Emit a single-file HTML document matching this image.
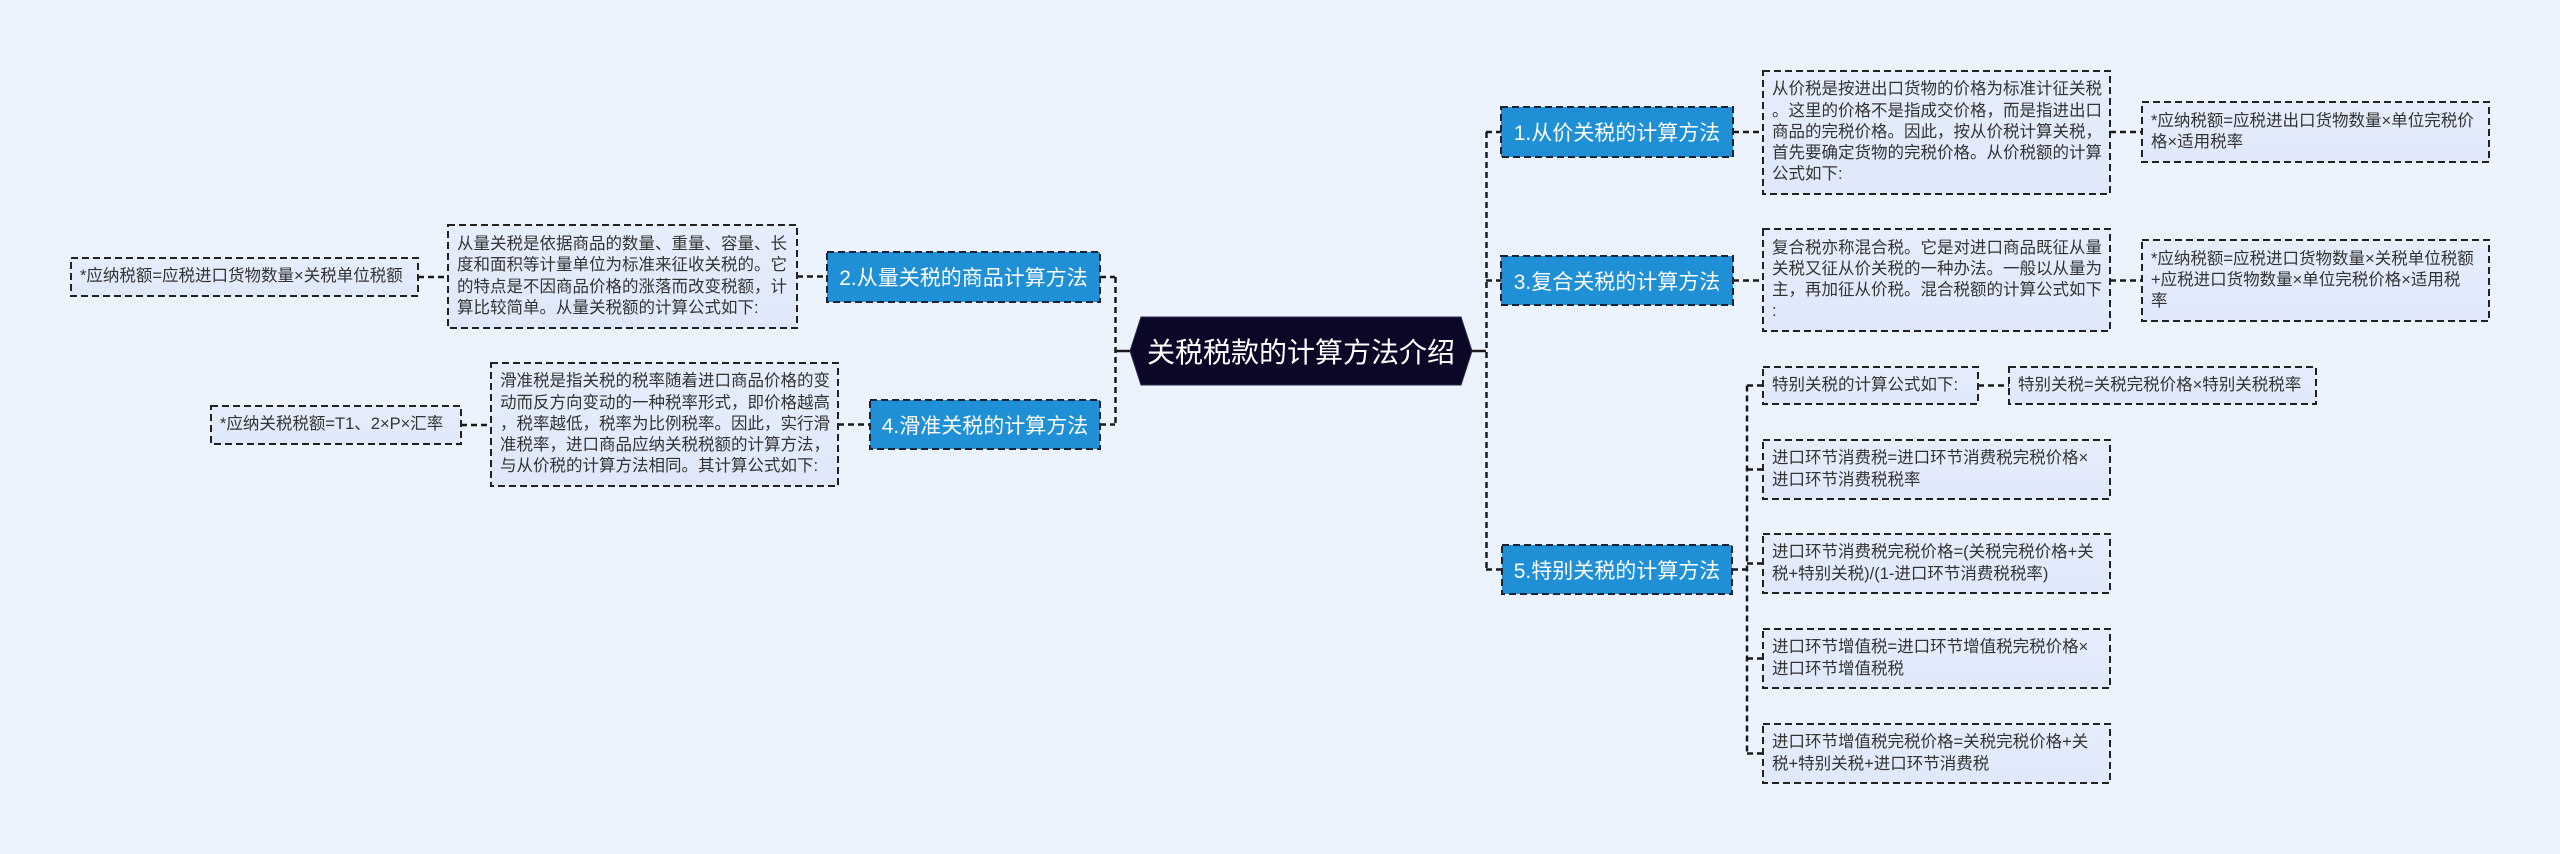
<!DOCTYPE html>
<html>
<head>
<meta charset="utf-8">
<style>
html,body{margin:0;padding:0;}
body{width:2560px;height:854px;background:#EDF3FD;position:relative;overflow:hidden;font-family:"Liberation Sans","Noto Sans CJK SC",sans-serif;}
svg{position:absolute;left:0;top:0;}
.t{position:absolute;box-sizing:border-box;display:flex;align-items:center;padding-left:9px;color:#333;font-size:16.5px;line-height:21.25px;white-space:nowrap;}
.n{position:absolute;box-sizing:border-box;display:flex;align-items:center;justify-content:center;color:#fff;font-size:21px;white-space:nowrap;}
.c{position:absolute;display:flex;align-items:center;justify-content:center;color:#fff;font-size:28px;white-space:nowrap;}
</style>
</head>
<body>
<svg width="2560" height="854" viewBox="0 0 2560 854">
  <defs>
    <linearGradient id="bx" x1="0" y1="0" x2="0" y2="1">
      <stop offset="0" stop-color="#E6EEFC"/>
      <stop offset="1" stop-color="#DFE8FA"/>
    </linearGradient>
  </defs>
  <!-- connectors -->
  <g stroke="#1a1a1a" stroke-width="2.5" fill="none">
    <line x1="1472" y1="351" x2="1486" y2="351"/>
    <line x1="1115" y1="351" x2="1130" y2="351"/>
  </g>
  <g stroke="#1a1a1a" stroke-width="2.5" fill="none" stroke-dasharray="6 4">
    <line x1="1486.5" y1="132" x2="1486.5" y2="570"/>
    <line x1="1486" y1="132" x2="1501" y2="132"/>
    <line x1="1486" y1="280.5" x2="1501" y2="280.5"/>
    <line x1="1486" y1="569.5" x2="1502" y2="569.5"/>

    <line x1="1115.5" y1="277" x2="1115.5" y2="425"/>
    <line x1="1100" y1="277" x2="1115" y2="277"/>
    <line x1="1100" y1="424.5" x2="1115" y2="424.5"/>

    <line x1="1733" y1="132" x2="1763" y2="132"/>
    <line x1="2110" y1="132" x2="2142" y2="132"/>
    <line x1="1733" y1="280.5" x2="1763" y2="280.5"/>
    <line x1="2110" y1="280.5" x2="2142" y2="280.5"/>

    <line x1="1732" y1="569.5" x2="1747" y2="569.5"/>
    <line x1="1747" y1="385.5" x2="1747" y2="753.5"/>
    <line x1="1747" y1="385.5" x2="1763" y2="385.5"/>
    <line x1="1747" y1="469.5" x2="1763" y2="469.5"/>
    <line x1="1747" y1="563.5" x2="1763" y2="563.5"/>
    <line x1="1747" y1="658.5" x2="1763" y2="658.5"/>
    <line x1="1747" y1="753.5" x2="1763" y2="753.5"/>
    <line x1="1978" y1="385.5" x2="2009" y2="385.5"/>

    <line x1="797" y1="276.5" x2="827" y2="276.5"/>
    <line x1="418" y1="277" x2="448" y2="277"/>
    <line x1="838" y1="424.5" x2="870" y2="424.5"/>
    <line x1="461" y1="425" x2="491" y2="425"/>
  </g>

  <!-- center -->
  <polygon points="1130,351 1141,317 1461,317 1472,351 1461,385 1141,385" fill="#0B0727" stroke="#2a2a48" stroke-width="1"/>

  <!-- main nodes -->
  <g fill="#1F8FD6" stroke="#1a2233" stroke-width="2" stroke-dasharray="7 4">
    <rect x="1501" y="107" width="232" height="50"/>
    <rect x="1501" y="256" width="232" height="49"/>
    <rect x="1502" y="545" width="230" height="49"/>
    <rect x="827" y="252" width="273" height="50"/>
    <rect x="870" y="400" width="230" height="49"/>
  </g>

  <!-- text boxes -->
  <g fill="url(#bx)" stroke="#222" stroke-width="2" stroke-dasharray="7 4">
    <rect x="1763" y="71" width="347" height="123"/>
    <rect x="2142" y="102" width="347" height="60"/>
    <rect x="1763" y="229" width="347" height="102"/>
    <rect x="2142" y="240" width="347" height="81"/>
    <rect x="1763" y="367" width="215" height="37"/>
    <rect x="2009" y="367" width="307" height="37"/>
    <rect x="1763" y="440" width="347" height="59"/>
    <rect x="1763" y="534" width="347" height="59"/>
    <rect x="1763" y="629" width="347" height="59"/>
    <rect x="1763" y="724" width="347" height="59"/>
    <rect x="448" y="225" width="349" height="103"/>
    <rect x="71" y="258" width="347" height="38"/>
    <rect x="491" y="363" width="347" height="123"/>
    <rect x="211" y="406" width="250" height="38"/>
  </g>
</svg>

<div class="c" style="left:1130px;top:317px;width:342px;height:68px;">关税税款的计算方法介绍</div>

<div class="n" style="left:1501px;top:107px;width:232px;height:50px;">1.从价关税的计算方法</div>
<div class="n" style="left:1501px;top:256px;width:232px;height:49px;">3.复合关税的计算方法</div>
<div class="n" style="left:1502px;top:545px;width:230px;height:49px;">5.特别关税的计算方法</div>
<div class="n" style="left:827px;top:252px;width:273px;height:50px;">2.从量关税的商品计算方法</div>
<div class="n" style="left:870px;top:400px;width:230px;height:49px;">4.滑准关税的计算方法</div>

<div class="t" style="left:1763px;top:71px;width:347px;height:123px;"><div>从价税是按进出口货物的价格为标准计征关税<br>。这里的价格不是指成交价格，而是指进出口<br>商品的完税价格。因此，按从价税计算关税，<br>首先要确定货物的完税价格。从价税额的计算<br>公式如下:</div></div>
<div class="t" style="left:2142px;top:102px;width:347px;height:60px;"><div>*应纳税额=应税进出口货物数量×单位完税价<br>格×适用税率</div></div>
<div class="t" style="left:1763px;top:229px;width:347px;height:102px;"><div>复合税亦称混合税。它是对进口商品既征从量<br>关税又征从价关税的一种办法。一般以从量为<br>主，再加征从价税。混合税额的计算公式如下<br>:</div></div>
<div class="t" style="left:2142px;top:240px;width:347px;height:81px;"><div>*应纳税额=应税进口货物数量×关税单位税额<br>+应税进口货物数量×单位完税价格×适用税<br>率</div></div>
<div class="t" style="left:1763px;top:367px;width:215px;height:37px;"><div>特别关税的计算公式如下:</div></div>
<div class="t" style="left:2009px;top:367px;width:307px;height:37px;"><div>特别关税=关税完税价格×特别关税税率</div></div>
<div class="t" style="left:1763px;top:440px;width:347px;height:59px;"><div>进口环节消费税=进口环节消费税完税价格×<br>进口环节消费税税率</div></div>
<div class="t" style="left:1763px;top:534px;width:347px;height:59px;"><div>进口环节消费税完税价格=(关税完税价格+关<br>税+特别关税)/(1-进口环节消费税税率)</div></div>
<div class="t" style="left:1763px;top:629px;width:347px;height:59px;"><div>进口环节增值税=进口环节增值税完税价格×<br>进口环节增值税税</div></div>
<div class="t" style="left:1763px;top:724px;width:347px;height:59px;"><div>进口环节增值税完税价格=关税完税价格+关<br>税+特别关税+进口环节消费税</div></div>

<div class="t" style="left:448px;top:225px;width:349px;height:103px;"><div>从量关税是依据商品的数量、重量、容量、长<br>度和面积等计量单位为标准来征收关税的。它<br>的特点是不因商品价格的涨落而改变税额，计<br>算比较简单。从量关税额的计算公式如下:</div></div>
<div class="t" style="left:71px;top:258px;width:347px;height:38px;"><div>*应纳税额=应税进口货物数量×关税单位税额</div></div>
<div class="t" style="left:491px;top:363px;width:347px;height:123px;"><div>滑准税是指关税的税率随着进口商品价格的变<br>动而反方向变动的一种税率形式，即价格越高<br>，税率越低，税率为比例税率。因此，实行滑<br>准税率，进口商品应纳关税税额的计算方法，<br>与从价税的计算方法相同。其计算公式如下:</div></div>
<div class="t" style="left:211px;top:406px;width:250px;height:38px;"><div>*应纳关税税额=T1、2×P×汇率</div></div>
</body>
</html>
